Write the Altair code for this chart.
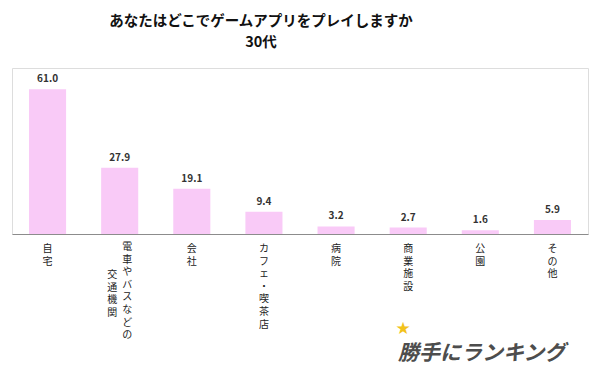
import altair as alt
import pandas as pd

categories = ["自宅", "電車やバスなどの交通機関", "会社", "カフェ・喫茶店", "病院", "商業施設", "公園", "その他"]
values = [61.0, 27.9, 19.1, 9.4, 3.2, 2.7, 1.6, 5.9]
label_col1 = ["自宅", "電車やバスなどの", "会社", "カフェ・喫茶店", "病院", "商業施設", "公園", "その他"]
label_col2 = ["", "交通機関", "", "", "", "", "", ""]
title_text = "あなたはどこでゲームアプリをプレイしますか"
subtitle_text = "30代"
logo_text = "勝手にランキング"

df = pd.DataFrame({"cat": categories, "val": values, "col1": label_col1, "col2": label_col2})

FONT = "Noto Sans CJK JP"
W, H = 576, 166

xenc = alt.X("cat:N", sort=categories,
             scale=alt.Scale(paddingInner=0.486, paddingOuter=0.236),
             axis=alt.Axis(labels=False, ticks=False, title=None, domainColor="#8c8c8c", domainWidth=1))
yscale = alt.Scale(domain=[0, 70])

base = alt.Chart(df)

bars = base.mark_bar(color="#F9CAF7").encode(
    x=xenc,
    y=alt.Y("val:Q", scale=yscale, axis=None),
)

vals = base.mark_text(font=FONT, fontSize=10, fontWeight="bold", color="#333333",
                      baseline="bottom", dy=-5).encode(
    x=alt.X("cat:N", sort=categories),
    y=alt.Y("val:Q", scale=yscale),
    text=alt.Text("val:Q", format=".1f"),
)

lab_common = dict(font=FONT, fontSize=10, color="#222222", baseline="top", lineHeight=12.6, align="center")

lab_single = base.transform_filter("datum.col2 == ''").transform_calculate(
    lines="split(datum.col1, '')").mark_text(dy=10, **lab_common).encode(
    x=alt.X("cat:N", sort=categories), y=alt.datum(0, scale=yscale), text="lines:N")

lab_right = base.transform_filter("datum.col2 != ''").transform_calculate(
    lines="split(datum.col1, '')").mark_text(dy=8, dx=7.5, **lab_common).encode(
    x=alt.X("cat:N", sort=categories), y=alt.datum(0, scale=yscale), text="lines:N")

lab_left = base.transform_filter("datum.col2 != ''").transform_calculate(
    lines="split(datum.col2, '')").mark_text(dy=36, dx=-7.5, **lab_common).encode(
    x=alt.X("cat:N", sort=categories), y=alt.datum(0, scale=yscale), text="lines:N")

logo = alt.Chart(pd.DataFrame({"t": [logo_text]})).mark_text(
    font=FONT, fontSize=21, fontWeight="bold", fontStyle="italic", color="#4d4d4d",
    align="left", baseline="middle").encode(
    x=alt.value(386), y=alt.value(286), text="t:N")

star = alt.Chart(pd.DataFrame({"t": ["★"]})).mark_text(
    font="DejaVu Sans", fontSize=17, color="#F2C21B", align="center", baseline="middle").encode(
    x=alt.value(391), y=alt.value(261), text="t:N")

chart = alt.layer(bars, vals, lab_single, lab_right, lab_left, logo, star).properties(
    width=W, height=H,
    autosize=alt.AutoSizeParams(type="none"),
    padding={"left": 4, "right": 4, "top": 60, "bottom": 143},
    title=alt.TitleParams(
        text=title_text, subtitle=subtitle_text,
        font=FONT, fontSize=14.5, fontWeight="bold", color="#111111",
        subtitleFont=FONT, subtitleFontSize=14.5, subtitleFontWeight="bold", subtitleColor="#111111",
        subtitlePadding=6, anchor="middle", frame="group", dx=-39, offset=18,
    ),
).configure_view(stroke=None).configure(background="white")

chart.save("out.html", embed_options={"renderer": "svg", "actions": False})
